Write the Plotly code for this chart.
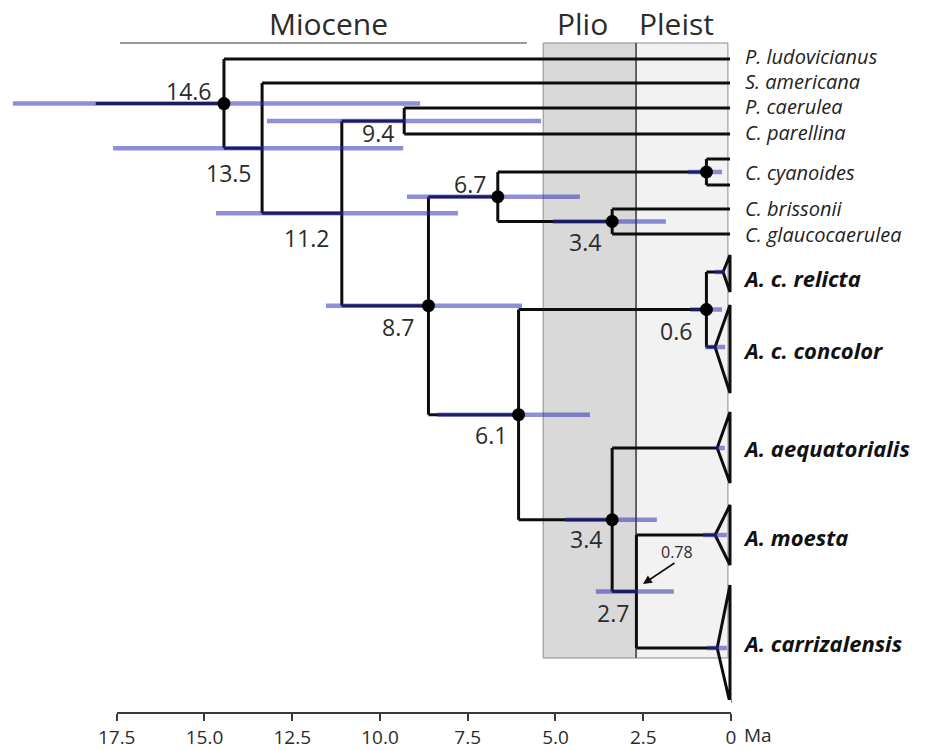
import plotly.graph_objects as go

# ---------------- data ----------------
tip_ids = ["P. ludovicianus", "S. americana", "P. caerulea", "C. parellina",
           "C. cyanoides 1", "C. cyanoides 2", "C. brissonii", "C. glaucocaerulea",
           "A. c. relicta", "A. c. concolor", "A. aequatorialis", "A. moesta",
           "A. carrizalensis"]
tip_rows = [59, 83, 108, 134, 159, 185, 209, 234, 272, 347, 448, 535, 648]
tip_ages = [0, 0, 0, 0, 0, 0, 0, 0, 0.20, 0.43, 0.37, 0.43, 0.37]

# collapsed clades (triangles)
clade_ids = ["A. c. relicta", "A. c. concolor", "A. aequatorialis", "A. moesta", "A. carrizalensis"]
clade_top = [255, 305, 412, 505, 585]
clade_bottom = [292, 393, 483, 565, 703]
clade_hpd_lo = [0.43, 0.72, 0.40, 0.78, 0.66]
clade_hpd_hi = [0.14, 0.14, 0.15, 0.09, 0.09]

node_ids = ["root", "n135", "n112", "n94", "n87", "n67", "n34c", "ncya", "n61", "n06", "n34a", "n27"]
node_ages = [14.6, 13.5, 11.2, 9.4, 8.7, 6.7, 3.4, 0.68, 6.1, 0.68, 3.4, 2.7]
node_children = [
    ["P. ludovicianus", "n135"],
    ["S. americana", "n112"],
    ["n94", "n87"],
    ["P. caerulea", "C. parellina"],
    ["n67", "n61"],
    ["ncya", "n34c"],
    ["C. brissonii", "C. glaucocaerulea"],
    ["C. cyanoides 1", "C. cyanoides 2"],
    ["n06", "n34a"],
    ["A. c. relicta", "A. c. concolor"],
    ["A. aequatorialis", "n27"],
    ["A. moesta", "A. carrizalensis"],
]
node_labels = ["14.6", "13.5", "11.2", "9.4", "8.7", "6.7", "3.4", "", "6.1", "0.6", "3.4", "2.7"]
node_dot = [True, False, False, False, True, True, True, True, True, True, True, False]
hpd_lo = [20.69, 17.80, 14.83, 13.36, 11.66, 9.32, 5.11, 1.21, 8.45, 1.15, 4.76, 3.87]
hpd_hi = [8.94, 9.43, 7.85, 5.45, 6.00, 4.33, 1.85, 0.23, 4.04, 0.23, 2.11, 1.62]
root_stem_age = 18.3

label_texts = ["P. ludovicianus", "S. americana", "P. caerulea", "C. parellina",
               "C. cyanoides", "C. brissonii", "C. glaucocaerulea",
               "A. c. relicta", "A. c. concolor", "A. aequatorialis", "A. moesta",
               "A. carrizalensis"]
label_rows = [56, 81, 106, 132, 172, 208, 234, 278, 350, 448, 537, 643]
label_bold = [False] * 7 + [True] * 5

epoch_names = ["Miocene", "Plio", "Pleist"]
epoch_label_age = [11.57, 4.27, 1.53]
miocene_line = [17.6, 5.86]
plio_start, pleist_start, pleist_end = 5.39, 2.71, 0.06

scale_ticks = [17.5, 15.0, 12.5, 10.0, 7.5, 5.0, 2.5, 0.0]
scale_ticktext = ["17.5", "15.0", "12.5", "10.0", "7.5", "5.0", "2.5", "0"]

# ---------------- layout helpers (pixel-ish geometry) ----------------
W, H = 935, 750
PX_PER_MA = 34.66
ZERO_PX = 730
TREE_RANGE = [ZERO_PX / PX_PER_MA, -(W - ZERO_PX) / PX_PER_MA]

label_dx = [-35, -33, -35, -26, -30, -28, -27, 0, -28, -30, -26, -23]
label_dy = [-13, 25, 25, 12, 21, -13, 20, 0, 20, 21, 19, 21]

# ---------------- geometry computation ----------------
age = dict(zip(tip_ids, tip_ages))
row = dict(zip(tip_ids, tip_rows))
age.update(dict(zip(node_ids, node_ages)))


def node_row(n):
    if n in row:
        return row[n]
    i = node_ids.index(n)
    r = sum(node_row(c) for c in node_children[i]) / len(node_children[i])
    row[n] = r
    return r


for n in node_ids:
    node_row(n)

bx, by = [], []
for n, kids in zip(node_ids, node_children):
    ys = [row[c] for c in kids]
    bx += [age[n], age[n], None]
    by += [min(ys), max(ys), None]
    for c in kids:
        bx += [age[n], age[c], None]
        by += [row[c], row[c], None]
# root stem
bx += [root_stem_age, age["root"], None]
by += [row["root"], row["root"], None]

fig = go.Figure()

# epoch boxes
fig.add_shape(type="rect", xref="x", yref="y", x0=plio_start, x1=pleist_start, y0=43, y1=658,
              fillcolor="#d9d9d9", line=dict(color="#8c8c8c", width=1), layer="below")
fig.add_shape(type="rect", xref="x", yref="y", x0=pleist_start, x1=pleist_end, y0=43, y1=658,
              fillcolor="#f2f2f2", line=dict(color="#8c8c8c", width=1), layer="below")
fig.add_shape(type="line", xref="x", yref="y", x0=pleist_start, x1=pleist_start, y0=43, y1=658,
              line=dict(color="#3a3a3a", width=1.3), layer="below")
fig.add_shape(type="line", xref="x", yref="y", x0=miocene_line[0], x1=miocene_line[1], y0=43, y1=43,
              line=dict(color="#9a9a9a", width=2), layer="below")

# branches
fig.add_trace(go.Scatter(x=bx, y=by, mode="lines", line=dict(color="#0d0d0d", width=3),
                         hoverinfo="skip"))

# collapsed clade triangles
tx, ty = [], []
for c, t, b in zip(clade_ids, clade_top, clade_bottom):
    tx += [age[c], 0, 0, age[c], None]
    ty += [row[c], t, b, row[c], None]
fig.add_trace(go.Scatter(x=tx, y=ty, mode="lines", line=dict(color="#0d0d0d", width=3),
                         hoverinfo="skip"))

# HPD bars
hx, hy = [], []
for n, lo, hi in zip(node_ids, hpd_lo, hpd_hi):
    hx += [lo, hi, None]
    hy += [row[n], row[n], None]
for c, lo, hi in zip(clade_ids, clade_hpd_lo, clade_hpd_hi):
    hx += [lo, hi, None]
    hy += [row[c], row[c], None]
fig.add_trace(go.Scatter(x=hx, y=hy, mode="lines", line=dict(color="rgba(40,40,175,0.52)", width=4.5),
                         hoverinfo="skip"))

# node dots
dx = [age[n] for n, d in zip(node_ids, node_dot) if d]
dy = [row[n] for n, d in zip(node_ids, node_dot) if d]
fig.add_trace(go.Scatter(x=dx, y=dy, mode="markers", marker=dict(color="black", size=13),
                         hoverinfo="skip"))

# invisible trace for scale bar axis
fig.add_trace(go.Scatter(x=[scale_ticks[0], scale_ticks[-1]], y=[0.5, 0.5], xaxis="x2", yaxis="y2",
                         mode="markers", marker=dict(opacity=0), hoverinfo="skip"))

annotations = []
NUMFONT = dict(family="Open Sans", size=23, color="#2b2b2b")
for n, lab, ddx, ddy in zip(node_ids, node_labels, label_dx, label_dy):
    if lab:
        annotations.append(dict(x=age[n], y=row[n], xref="x", yref="y", text=lab, showarrow=False,
                                xshift=ddx, yshift=-ddy, font=NUMFONT))

for t, r, b in zip(label_texts, label_rows, label_bold):
    txt = f"<b><i>{t}</i></b>" if b else f"<i>{t}</i>"
    annotations.append(dict(x=-(744 - ZERO_PX) / PX_PER_MA if not b else -(742 - ZERO_PX) / PX_PER_MA,
                            y=r, xref="x", yref="y", text=txt, showarrow=False, xanchor="left",
                            borderpad=0,
                            font=dict(family="Open Sans", size=22 if b else 20,
                                      color="#111" if b else "#222")))

for e, a in zip(epoch_names, epoch_label_age):
    annotations.append(dict(x=a, y=23, xref="x", yref="y", text=e, showarrow=False,
                            font=dict(family="Open Sans", size=30, color="#2b2b2b")))

# 0.78 pointer
annotations.append(dict(x=(ZERO_PX - 677) / PX_PER_MA, y=552, xref="x", yref="y", text="0.78",
                        showarrow=False, font=dict(family="Open Sans", size=16, color="#2b2b2b")))
annotations.append(dict(x=(ZERO_PX - 643) / PX_PER_MA, y=584, xref="x", yref="y", text="",
                        showarrow=True, ax=(ZERO_PX - 676) / PX_PER_MA, ay=562, axref="x", ayref="y",
                        arrowhead=2, arrowsize=1.1, arrowwidth=1.6, arrowcolor="#111"))
# Ma unit
annotations.append(dict(x=(ZERO_PX - 758) / PX_PER_MA, y=735, xref="x", yref="y", text="Ma",
                        showarrow=False, font=dict(family="Open Sans", size=19, color="#2b2b2b")))

fig.update_layout(
    width=W, height=H, margin=dict(l=0, r=0, t=0, b=0, autoexpand=False),
    paper_bgcolor="white", plot_bgcolor="white", showlegend=False,
    xaxis=dict(range=TREE_RANGE, visible=False, domain=[0, 1], automargin=False),
    yaxis=dict(range=[H, 0], visible=False, domain=[0, 1], automargin=False),
    xaxis2=dict(domain=[116.7 / W, 731 / W], range=[scale_ticks[0], scale_ticks[-1]], anchor="y2",
                tickvals=scale_ticks, ticktext=scale_ticktext, ticks="outside", ticklen=7,
                tickwidth=2, tickcolor="#3a3a3a", showline=True, linecolor="#3a3a3a", linewidth=2,
                showgrid=False, zeroline=False, automargin=False, ticklabelstandoff=0,
                tickfont=dict(family="Open Sans", size=19, color="#2b2b2b")),
    yaxis2=dict(domain=[(H - 712) / H, (H - 700) / H], range=[0, 1], visible=False, automargin=False),
    annotations=annotations,
)

fig.write_html("out.html")
